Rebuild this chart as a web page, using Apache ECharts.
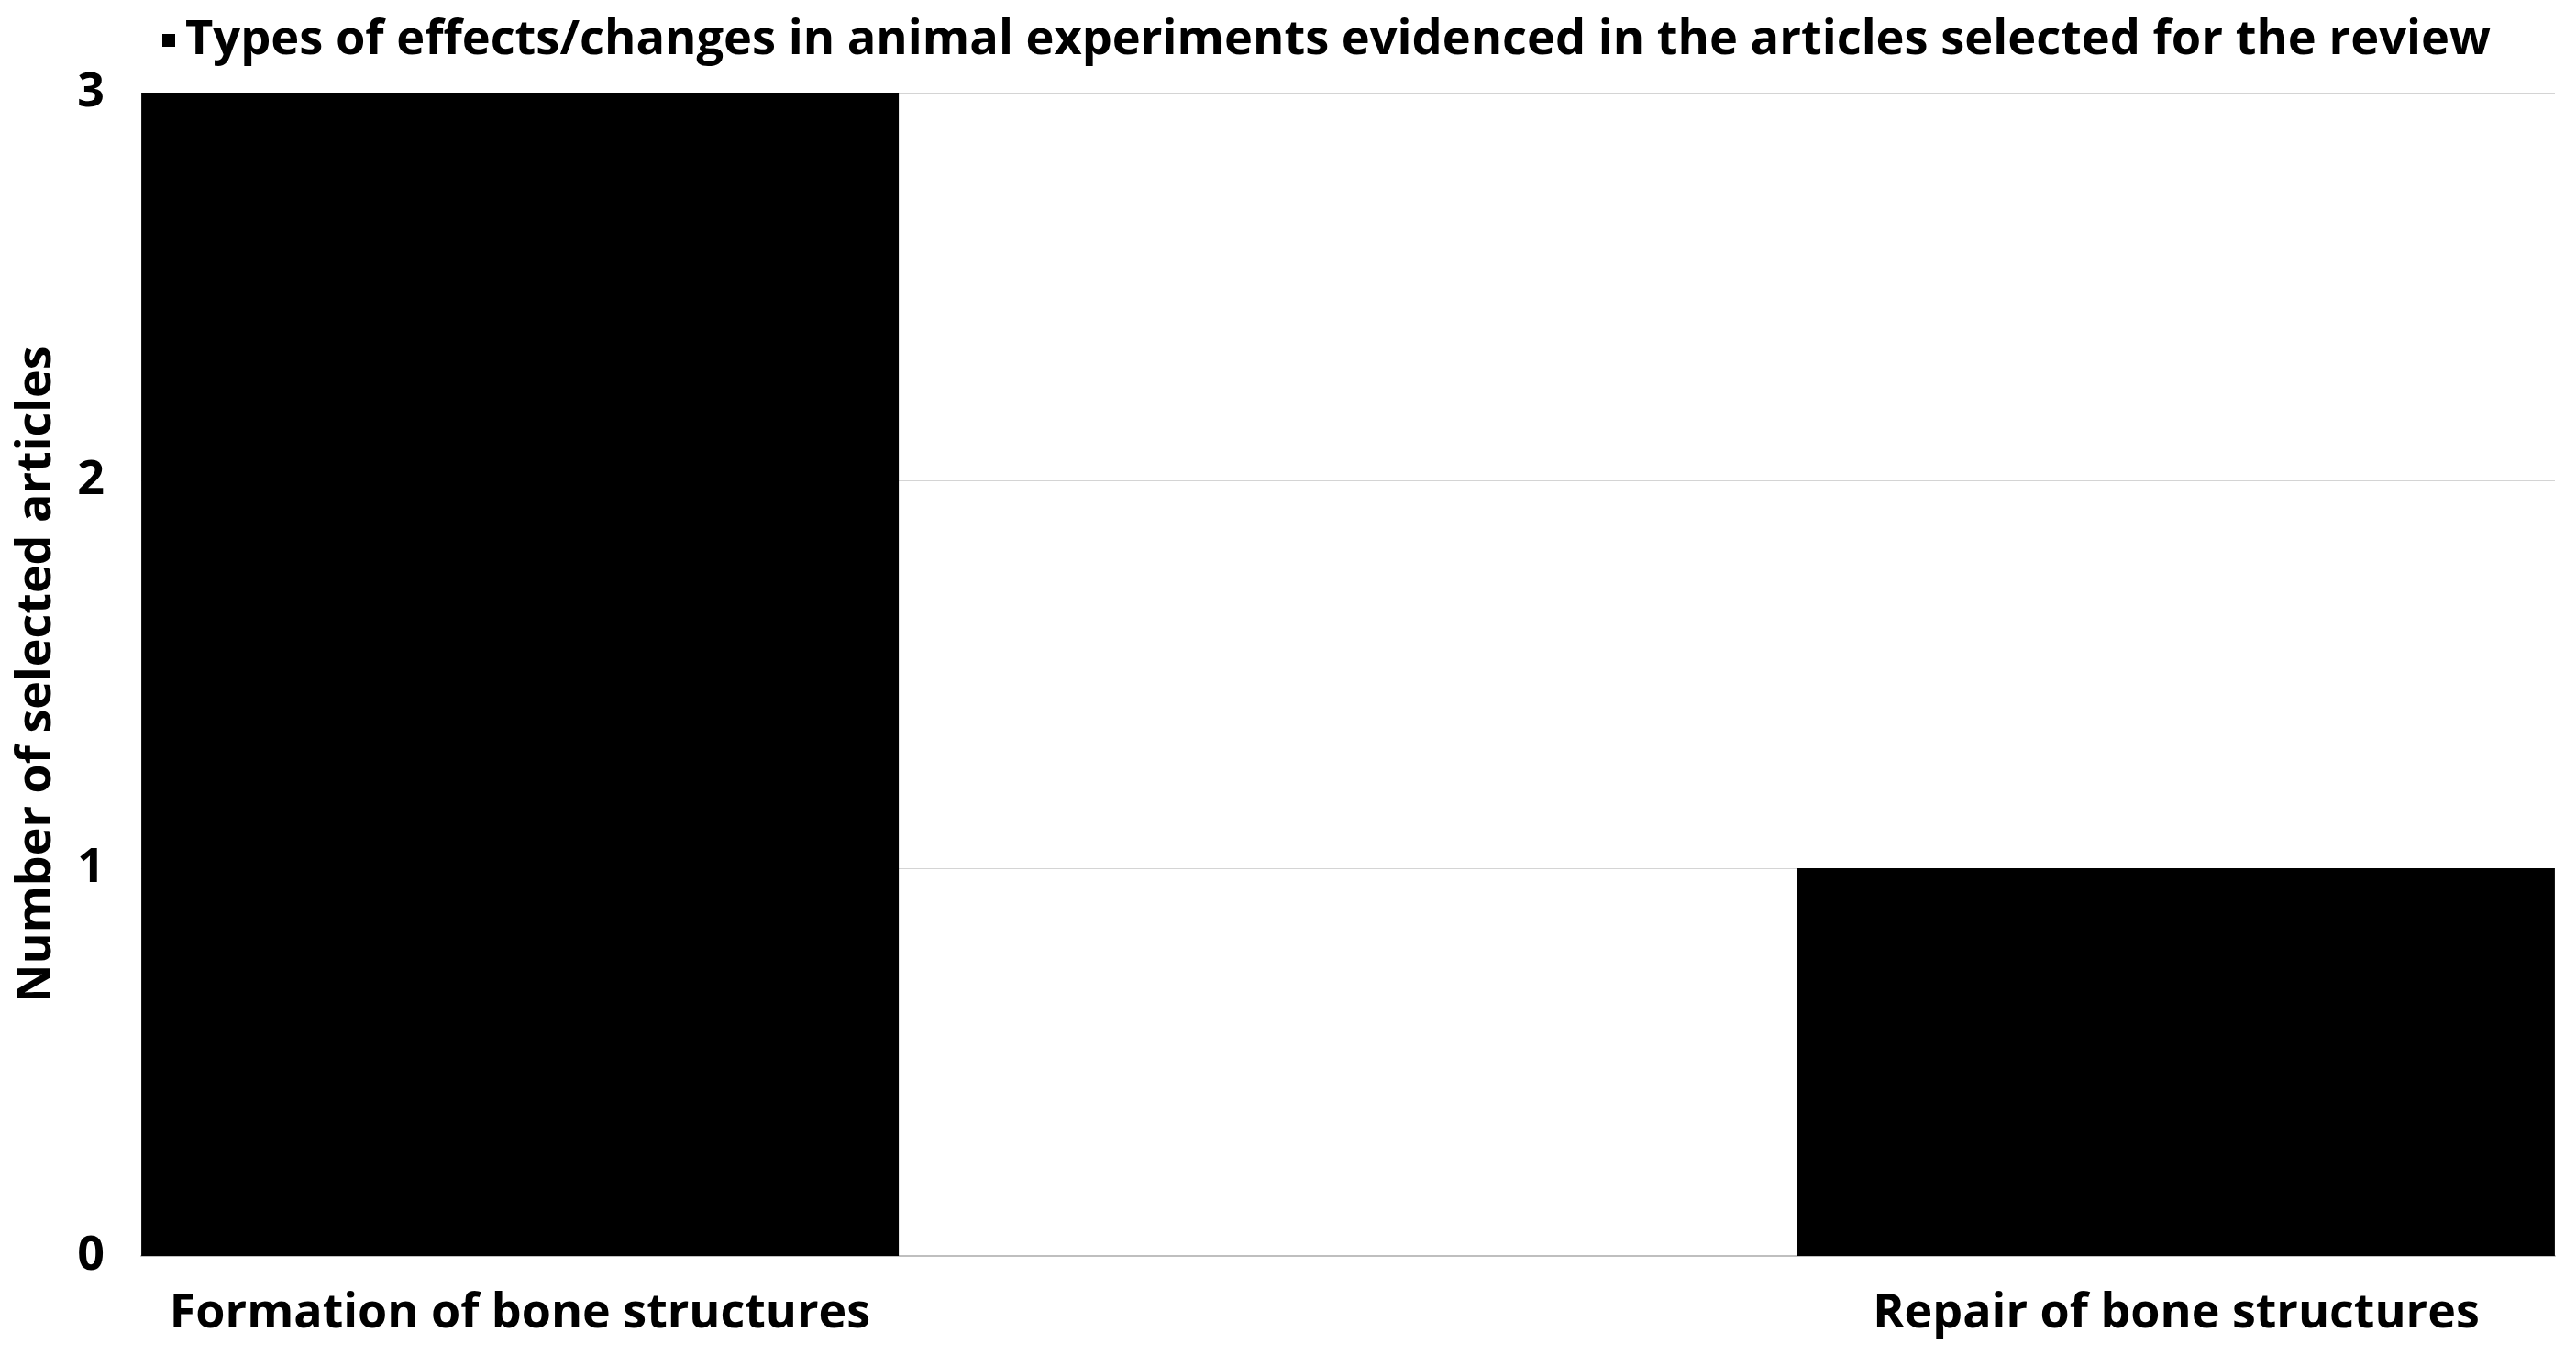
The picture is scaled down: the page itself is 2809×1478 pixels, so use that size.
<!DOCTYPE html>
<html>
<head>
<meta charset="utf-8">
<script src="https://cdn.jsdelivr.net/npm/echarts@6/dist/echarts.min.js"></script>
<style>
html,body{margin:0;padding:0;background:#fff;}
#chart{width:2809px;height:1478px;}
</style>
</head>
<body>
<div id="chart"></div>
<script>
const seriesName = 'Types of effects/changes in animal experiments evidenced in the articles selected for the review';
const categories = ['Formation of bone structures', 'Repair of bone structures'];
const values = [3, 1];
const yTicks = [0, 1, 2, 3];
const yAxisTitle = 'Number of selected articles';

const FONT = '"Open Sans", "Noto Sans", sans-serif';
const FS = 52;

// Two series share one name so the bars can be offset inside their bands like the original.
const leftData = values.map((v, i) => (i === 0 ? v : '-'));
const rightData = values.map((v, i) => (i === 1 ? v : '-'));

const chart = echarts.init(document.getElementById('chart'));
chart.setOption({
  animation: false,
  backgroundColor: '#ffffff',
  legend: {
    show: true,
    data: [seriesName],
    left: 172,
    top: 13,
    icon: 'rect',
    itemWidth: 14,
    itemHeight: 14,
    textStyle: { fontFamily: FONT, fontWeight: 'bold', fontSize: 52.4, color: '#000', padding: [0, 0, 0, 6] },
    selectedMode: false
  },
  grid: { left: 154, right: 23, top: 101, bottom: 108, containLabel: false },
  xAxis: {
    type: 'category',
    data: categories,
    axisLine: { show: true, lineStyle: { color: '#bfbfbf', width: 2 } },
    axisTick: { show: false },
    axisLabel: {
      fontFamily: FONT, fontWeight: 'bold', fontSize: FS, color: '#000', margin: 37,
      formatter: (v, i) => (i === 0 ? '{l|' + v + '}' : '{r|' + v + '}'),
      rich: {
        l: { fontFamily: FONT, fontWeight: 'bold', fontSize: FS, color: '#000', padding: [0, 490, 0, 0] },
        r: { fontFamily: FONT, fontWeight: 'bold', fontSize: FS, color: '#000', padding: [0, 0, 0, 490] }
      }
    }
  },
  yAxis: {
    type: 'value',
    min: yTicks[0],
    max: yTicks[yTicks.length - 1],
    interval: 1,
    name: yAxisTitle,
    nameLocation: 'middle',
    nameGap: 88,
    nameTextStyle: { fontFamily: FONT, fontWeight: 'bold', fontSize: FS, color: '#000' },
    axisLine: { show: false },
    axisTick: { show: false },
    axisLabel: { fontFamily: FONT, fontWeight: 'bold', fontSize: FS, color: '#000', margin: 40 },
    splitLine: { show: true, lineStyle: { color: '#d4d4d4', width: 1 } }
  },
  series: [
    {
      name: seriesName,
      type: 'bar',
      data: leftData,
      barWidth: 826,
      barGap: '-40.7%',
      itemStyle: { color: '#000000' },
      emphasis: { disabled: true }
    },
    {
      name: seriesName,
      type: 'bar',
      data: rightData,
      barWidth: 826,
      barGap: '-40.7%',
      itemStyle: { color: '#000000' },
      emphasis: { disabled: true }
    }
  ]
});
</script>
</body>
</html>
